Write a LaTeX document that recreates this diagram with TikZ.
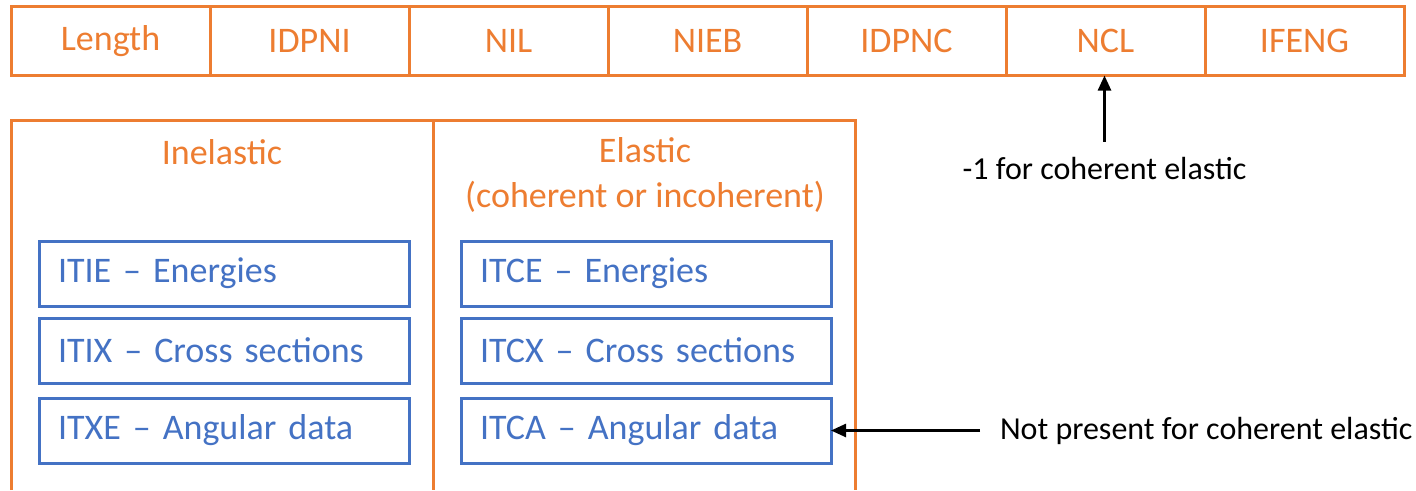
\documentclass[tikz,border=0pt]{standalone}
\usepackage{fontspec}
\setmainfont{Carlito}
\usepackage{xcolor}
\usetikzlibrary{arrows.meta, positioning, calc}
\definecolor{fieldorange}{HTML}{ED7D31}
\definecolor{recblue}{HTML}{4472C4}

\begin{document}
\begin{tikzpicture}[x=1pt, y=-1pt, node distance=0pt,
    every node/.style={font=\fontsize{36}{45}\selectfont, outer sep=0pt},
    field/.style={rectangle, draw=fieldorange, line width=3pt, text=fieldorange,
        minimum width=199pt, minimum height=69pt, inner sep=0pt},
    record/.style={rectangle, draw=recblue, line width=3pt, text=recblue,
        minimum height=65pt, text width=332pt, inner xsep=19pt, inner ysep=0pt, align=left},
    frame/.style={draw=fieldorange, line width=3pt},
    title/.style={text=fieldorange, align=center},
    note/.style={text=black, font=\fontsize{32}{38}\selectfont},
    pointer/.style={-{Triangle[length=15pt, width=13pt]}, line width=2.5pt}]
    \useasboundingbox (0,0) rectangle (1416,490);

    % header fields
    \node[field] (len) at (110.5,41) {Length};
    \node[field, right=of len] (idpni) {IDPNI};
    \node[field, right=of idpni] (nil) {NIL};
    \node[field, right=of nil] (nieb) {NIEB};
    \node[field, right=of nieb] (idpnc) {IDPNC};
    \node[field, right=of idpnc] (ncl) {NCL};
    \node[field, right=of ncl] (ifeng) {IFENG};

    % the two panels
    \draw[frame] (11,490) |- (855,120) -- (855,490);
    \draw[frame] (433,120) -- (433,490);
    \node[title] (inel) at (222,152) {Inelastic};
    \node[title] (elas) at (645,174.5) {Elastic\\(coherent or incoherent)};

    \node[record] (itie) at (224,273.5) {ITIE – Energies};
    \node[record, below=12pt of itie] (itix) {ITIX – Cross sections};
    \node[record, below=15pt of itix] (itxe) {ITXE – Angular data};
    \node[record, right=52pt of itie] (itce) {ITCE – Energies};
    \node[record, right=52pt of itix] (itcx) {ITCX – Cross sections};
    \node[record, right=52pt of itxe] (itca) {ITCA – Angular data};

    % remarks
    \node[note, inner ysep=16pt] (minus) at (1104.5,169) {-1 for coherent elastic};
    \draw[pointer] (minus.north) -- (minus.north |- ncl.south);
    \node[note, anchor=west, inner xsep=20pt] (absent) at (980,430.5) {Not present for coherent elastic};
    \draw[pointer] (absent.west) -- (itca.east);
\end{tikzpicture}
\end{document}
